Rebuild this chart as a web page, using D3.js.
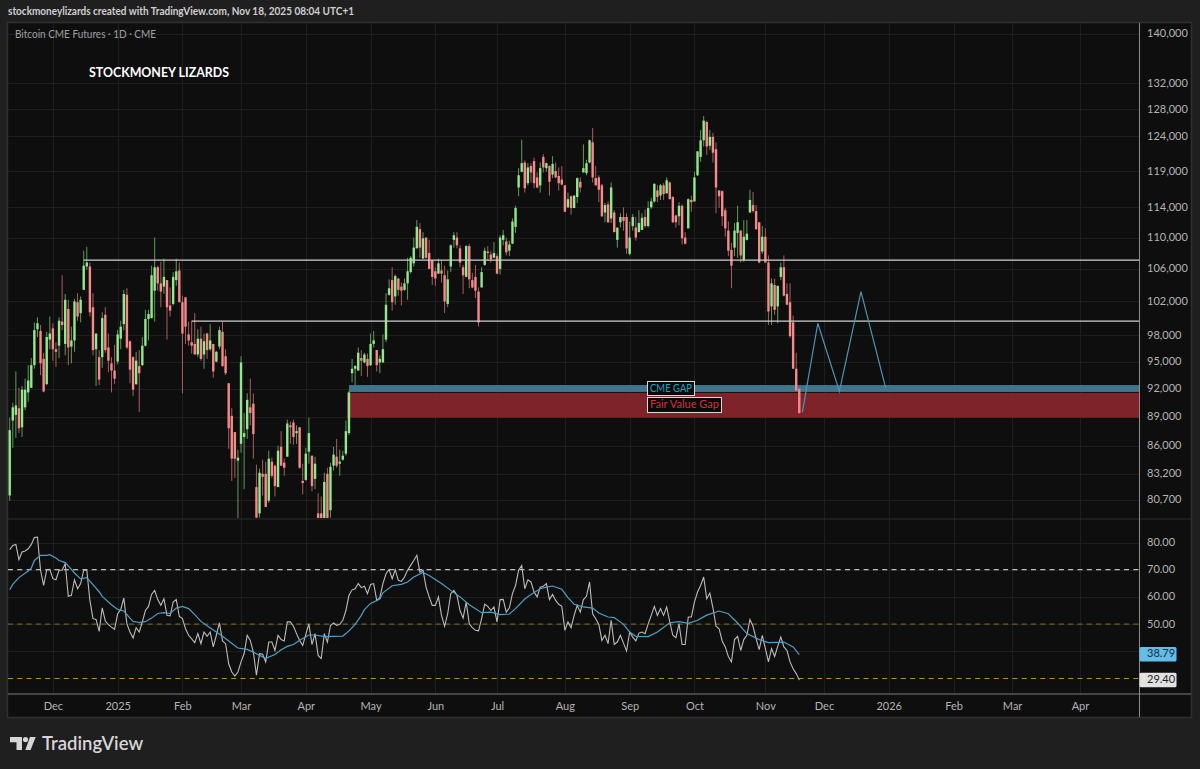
<!DOCTYPE html>
<html>
<head>
<meta charset="utf-8">
<title>Bitcoin CME Futures 1D</title>
<script src="https://cdn.jsdelivr.net/npm/d3@7"></script>
<style>
  html, body { margin: 0; padding: 0; background: #1f1f1f; overflow: hidden; }
  svg { display: block; }
  text { font-family: Lato, "Noto Sans", sans-serif; }
</style>
</head>
<body>
<div id="chart"></div>
<script>
// Daily BTC1! candles, in thousands of USD, one entry per trading session.
const opens = [
81.1,88.6,89.2,89.9,87.9,90.0,91.6,92.1,94.6,98.7,
98.5,95.3,92.5,97.5,98.8,96.4,96.8,99.6,97.0,101.1,
96.7,97.4,101.9,100.6,103.4,106.3,106.3,101.3,96.4,95.5,
95.5,100.4,96.6,94.8,94.0,95.0,97.6,99.3,102.8,97.3,
95.5,92.5,94.5,94.6,96.8,99.9,100.0,103.3,106.2,104.2,
103.8,104.6,101.5,101.7,104.6,105.8,101.9,102.5,98.1,97.2,
97.0,95.8,97.6,95.8,98.2,96.4,97.0,95.0,96.7,98.4,
95.6,92.6,89.1,87.4,84.5,86.2,86.9,87.7,90.0,90.4,
81.9,79.4,83.2,83.2,80.6,84.4,84.0,81.9,85.9,84.3,
84.9,88.1,88.4,87.3,87.9,82.5,82.6,85.4,85.0,82.7,
79.4,79.4,78.2,83.2,79.7,84.0,84.9,84.2,84.6,85.2,
87.3,93.7,94.2,94.0,95.4,94.9,95.3,94.6,97.0,96.3,
94.9,94.9,97.5,102.8,104.6,102.6,104.8,103.8,103.4,104.2,
105.6,106.7,108.6,111.1,107.3,110.0,108.0,107.1,105.7,105.4,
105.8,105.2,101.7,106.3,109.7,110.0,108.6,106.2,105.0,108.9,
104.6,105.0,103.2,103.7,106.5,108.2,107.8,107.4,107.6,106.0,
109.7,109.5,108.3,109.2,111.4,116.7,118.9,120.2,117.3,119.7,
120.4,118.1,117.0,121.0,119.4,119.7,118.5,119.0,118.3,117.8,
117.0,114.0,115.5,113.9,115.4,117.5,118.8,118.7,120.2,123.1,
118.0,118.1,117.0,113.3,114.4,112.5,113.3,109.7,112.0,112.7,
112.7,107.9,111.5,111.3,110.7,111.0,112.7,111.5,114.0,114.8,
116.3,115.6,117.0,115.9,117.4,115.4,112.9,112.8,114.2,110.0,
111.2,115.0,114.8,118.4,121.0,123.4,126.1,122.6,123.9,122.1,
116.3,116.2,113.6,110.9,108.4,108.7,110.6,110.9,107.1,109.7,
113.3,114.3,113.5,112.0,108.2,110.1,106.8,101.4,104.0,101.4,
105.0,106.2,102.9,101.9,99.5,94.2,92.0];

const highs = [
88.9,90.5,93.9,92.1,92.3,93.1,94.6,95.4,99.5,100.1,
99.2,96.0,98.4,100.2,99.4,97.2,100.1,105.2,102.9,102.2,
99.0,102.3,103.0,102.6,108.3,108.8,106.8,103.0,98.2,96.3,
100.7,101.3,98.2,95.5,96.9,98.6,99.7,103.4,103.6,97.4,
95.6,96.1,96.3,97.8,101.0,101.0,106.4,110.0,106.4,106.9,
107.3,104.6,103.7,105.6,107.3,106.8,102.7,102.5,99.6,99.7,
100.6,98.7,99.0,98.2,98.3,99.3,97.0,96.2,99.0,99.6,
96.4,92.6,89.9,87.4,85.6,95.6,89.4,91.5,93.1,91.5,
84.1,83.7,84.6,84.4,85.5,84.8,84.1,86.0,87.5,84.7,
88.7,88.5,88.7,88.1,87.9,84.2,85.8,88.9,85.0,84.9,
81.3,81.0,83.3,83.8,84.3,85.9,86.7,85.6,85.5,88.6,
91.8,95.3,94.6,96.6,96.3,96.0,95.9,98.2,98.5,96.3,
95.7,98.1,103.0,104.7,106.2,105.3,104.8,104.3,104.8,107.4,
107.6,110.0,112.3,111.9,110.7,110.0,109.7,107.1,106.2,107.3,
107.1,106.4,105.8,109.1,110.7,110.7,109.0,106.5,109.0,109.2,
105.5,106.5,103.7,106.2,108.7,108.9,108.3,109.4,107.9,110.3,
111.0,110.0,109.6,112.5,114.2,119.4,123.5,120.5,120.1,120.1,
120.9,118.8,120.2,121.4,120.2,119.8,121.1,120.2,119.5,119.7,
117.0,116.0,115.6,115.6,118.1,118.1,122.8,120.6,123.5,125.2,
119.7,118.4,117.2,114.6,114.8,117.4,113.6,111.3,113.2,114.0,
113.2,112.1,113.1,112.7,113.6,113.2,113.7,114.8,115.3,117.3,
117.0,117.2,117.3,118.1,117.5,115.5,113.0,114.7,114.4,110.7,
115.2,115.6,118.9,121.8,124.9,127.0,126.3,124.9,124.5,123.1,
116.3,116.3,113.9,112.1,109.3,111.9,114.2,111.0,112.3,112.3,
116.4,116.1,114.3,112.0,111.5,111.2,107.7,104.8,104.8,103.9,
106.8,107.7,104.2,104.2,100.3,96.0,92.1];

const lows = [
80.6,85.8,86.8,87.3,86.9,89.7,90.6,92.1,94.2,97.8,
93.5,91.6,92.4,96.4,95.1,94.4,95.4,98.6,95.7,94.6,
94.8,96.1,99.7,99.5,103.4,105.9,100.2,95.7,92.3,92.4,
94.3,96.0,93.8,91.6,92.5,94.7,96.4,98.6,96.4,92.6,
91.2,92.4,89.5,94.5,96.7,97.4,100.0,99.6,103.3,101.3,
102.9,97.5,100.2,101.5,103.9,101.9,91.5,97.0,96.8,95.9,
95.8,95.5,95.1,94.2,95.3,96.2,93.2,94.9,96.4,94.4,
93.5,85.7,82.5,82.8,78.8,85.3,81.7,86.7,88.1,84.7,
78.5,79.0,81.1,80.0,80.4,82.8,81.0,81.9,84.0,83.0,
84.9,86.2,86.1,86.2,83.7,81.2,82.5,84.2,81.5,81.7,
77.5,77.0,78.0,78.0,79.0,83.5,83.8,83.0,84.5,85.0,
87.1,92.7,92.4,94.0,93.4,94.8,93.3,94.5,96.6,93.9,
93.7,94.9,97.2,102.7,100.9,101.6,102.7,101.5,103.3,102.2,
105.4,106.3,108.6,107.4,107.3,107.3,106.0,104.0,103.9,105.4,
104.3,100.6,101.3,105.6,108.7,108.6,106.2,102.9,105.0,103.6,
103.6,102.4,99.0,103.7,106.4,107.1,106.8,107.4,105.4,105.3,
109.0,107.7,107.6,109.2,110.6,115.5,118.8,116.0,117.0,117.4,
116.6,116.6,116.0,118.8,118.9,115.6,118.0,118.0,116.3,117.0,
113.4,113.9,113.0,113.9,114.6,116.0,118.8,118.4,120.1,117.4,
117.0,114.7,112.7,112.0,111.9,111.9,110.7,108.7,111.3,110.9,
107.9,107.7,110.9,109.6,110.7,111.0,111.3,111.3,113.8,114.6,
114.7,115.0,115.0,115.9,115.1,111.9,111.3,111.6,109.1,109.1,
111.2,113.4,114.8,118.3,120.3,122.5,121.3,122.0,120.2,113.2,
113.9,111.5,110.1,107.6,103.6,107.6,107.4,106.8,106.9,109.6,
113.3,113.3,111.0,106.7,107.9,106.8,99.2,99.2,100.4,99.4,
104.6,102.6,101.6,97.7,94.2,91.7,89.3];

const closes = [
87.6,90.0,90.2,87.8,91.9,91.9,92.9,94.6,98.6,99.4,
94.8,91.7,97.8,98.2,96.4,96.1,99.7,99.2,102.2,96.6,
97.4,102.0,100.2,102.2,106.4,106.8,100.7,96.3,98.2,93.0,
100.0,96.3,95.1,94.0,93.1,98.1,99.0,102.9,96.6,94.1,
91.9,95.1,93.7,96.8,99.9,100.5,105.2,106.2,104.2,103.2,
105.0,101.3,100.9,105.0,105.7,101.9,98.2,99.0,97.4,96.8,
95.8,97.6,95.3,97.3,96.3,97.4,93.9,96.1,98.6,94.5,
93.7,87.8,84.7,84.7,84.8,94.9,87.3,90.8,89.4,87.2,
79.0,83.3,82.9,80.0,84.7,83.0,82.0,85.5,84.0,83.8,
88.3,87.9,86.9,87.5,83.8,82.3,85.2,87.3,82.0,84.2,
78.0,78.2,82.4,78.5,83.9,85.1,84.0,84.4,85.0,87.5,
91.6,94.2,94.5,96.0,95.1,95.8,94.5,97.0,97.4,94.6,
95.3,96.4,101.6,103.6,101.9,105.1,103.4,103.3,104.2,105.7,
107.4,108.7,111.4,108.7,109.9,107.4,106.0,105.0,104.8,106.7,
105.4,102.0,104.7,109.0,110.3,109.0,106.8,105.2,108.9,104.7,
103.7,103.3,99.5,105.6,108.3,108.0,107.2,108.0,105.4,110.0,
110.3,108.1,109.1,112.1,113.9,118.4,120.1,116.6,119.5,118.8,
117.3,116.7,119.4,119.5,120.1,117.5,120.0,118.1,117.3,117.1,
113.4,115.1,113.9,115.6,118.0,116.7,119.4,120.1,123.4,118.1,
117.0,116.4,112.8,114.3,112.0,116.7,110.7,111.3,112.7,112.2,
108.6,110.0,112.7,110.0,111.9,112.6,111.5,113.9,114.8,117.2,
115.4,117.0,115.8,117.7,115.1,112.0,112.0,114.2,109.9,109.2,
115.1,114.7,118.1,121.8,123.4,126.3,122.5,123.9,121.6,116.7,
115.5,112.8,111.2,108.3,106.4,110.9,112.0,107.7,110.1,110.5,
115.0,113.5,111.1,106.8,110.1,106.8,100.8,104.2,101.0,103.9,
106.2,102.7,101.6,97.9,94.2,91.8,89.4];

// RSI per session.
const rsiValues = [
77.4,78.9,79.3,73.7,76.5,76.9,77.7,79.3,81.8,82.0,
69.8,64.2,70.0,70.1,66.7,66.3,69.8,69.8,72.2,60.2,
60.6,66.3,63.0,64.9,69.8,69.8,58.7,52.0,51.7,47.3,
56.0,51.1,49.8,48.9,48.1,53.8,55.3,59.6,50.1,47.1,
44.9,48.7,47.1,50.8,55.0,56.5,60.9,62.4,59.0,56.9,
59.3,53.2,53.0,58.1,59.0,52.8,52.0,48.3,45.9,44.6,
43.2,46.5,42.8,47.1,45.5,47.1,41.6,45.9,50.5,43.8,
42.8,35.4,32.4,30.9,32.4,36.1,39.1,45.9,44.0,39.7,
31.2,39.1,38.9,36.1,43.4,43.4,40.3,45.9,44.3,43.8,
50.8,50.8,49.2,46.5,44.0,42.2,46.2,50.1,42.5,46.5,
38.5,37.3,46.5,43.4,49.5,50.4,49.5,49.9,51.4,55.0,
60.6,62.6,63.0,64.9,63.4,63.9,61.2,64.6,64.9,58.7,
59.7,64.9,68.5,70.1,66.7,70.0,66.1,65.7,67.3,69.8,
71.6,73.4,75.3,69.1,69.8,63.6,60.0,56.9,56.9,60.0,
53.2,49.2,53.8,61.2,62.4,60.6,55.0,52.2,58.1,50.1,
48.7,47.7,47.5,52.0,57.3,56.5,55.0,56.3,50.8,59.0,
59.1,54.4,56.0,61.2,64.2,69.8,71.5,63.0,66.3,65.5,
61.8,60.0,63.6,63.9,64.9,59.0,60.9,58.7,57.3,56.5,
47.7,50.8,48.7,53.2,56.9,54.4,59.0,60.2,65.5,53.8,
52.0,49.9,44.0,45.9,42.8,51.4,42.5,43.4,45.9,43.0,
40.1,47.1,45.2,43.8,46.7,47.1,46.5,50.1,53.2,56.5,
53.2,55.7,53.2,56.3,50.8,45.9,45.0,50.1,42.5,42.5,
52.6,52.6,58.1,61.8,64.2,67.3,59.3,61.4,56.0,49.2,
48.3,43.8,41.6,38.1,36.1,44.3,45.5,40.3,44.3,45.9,
51.7,49.2,44.6,40.6,45.9,41.0,36.1,41.0,38.1,41.8,
45.2,41.6,40.3,36.1,33.6,31.8,29.4];

// Smoothing line on the RSI: session numbers and the level at each.
const rsiMaBars = [0,1,3,6,7,8,10,12,13,15,16,18,20,21,23,25,27,29,30,33,35,37,39,40,42,44,46,48,50,52,
54,56,58,60,62,64,67,69,71,74,77,80,81,83,86,88,90,92,94,97,99,102,105,108,110,112,114,115,117,120,
121,124,127,129,131,134,136,140,143,146,149,153,156,159,162,164,167,169,172,174,176,179,181,183,186,189,191,194,196,199,
201,203,207,210,214,217,220,223,226,230,233,236,239,243,246,251,254,256];
const rsiMaValues = [62.6,64.6,67.1,69.5,70.6,73.4,75.3,75.3,75.5,74.3,73.4,72.6,70.1,68.8,66.6,67.1,64.5,61.9,60.2,57.1,55.4,54.8,52.2,51.0,50.6,50.9,52.2,53.9,54.2,53.9,
55.9,56.5,55.7,53.5,51.0,49.4,47.1,45.5,43.8,41.2,40.7,39.1,38.5,37.4,38.8,40.6,41.8,42.5,44.1,46.0,46.0,45.4,45.5,45.6,47.5,49.9,53.2,55.3,57.6,59.2,
61.5,64.1,64.6,65.5,67.3,69.0,67.9,64.9,62.4,60.0,57.1,54.2,54.4,53.5,53.7,55.7,59.2,60.9,63.0,63.6,64.0,62.8,59.7,57.3,56.3,55.9,54.1,52.6,52.4,49.9,
47.1,45.5,45.4,47.1,50.5,50.9,50.3,51.4,53.3,54.8,53.8,50.4,46.5,44.3,43.2,43.4,41.6,38.79];

// Horizontal resistance levels, the first session each starts from, in USD.
const levelPrices = [107100, 99650];
const levelStartBars = [24, 59];

// Gap zones in USD: [low, high] and first session.
const cmeGapRange = [91650, 92400];
const cmeGapStartBar = 110;
const fairValueGapRange = [88900, 91550];
const fairValueGapStartBar = 109;

// Projected path after the last session.
const projectionBars = [257, 262, 269, 276, 284];
const projectionPrices = [89500, 99400, 91700, 103200, 92100];

// Axes.
const priceTicks = [140000, 132000, 128000, 124000, 119000, 114000, 110000, 106000, 102000, 98000, 95000, 92000, 89000, 86000, 83200, 80700];
const rsiTicks = [80, 70, 60, 50];
const rsiGridLevels = [80, 70, 60, 50, 40];
const timeLabels = ["Dec", "2025", "Feb", "Mar", "Apr", "May", "Jun", "Jul", "Aug", "Sep", "Oct", "Nov", "Dec", "2026", "Feb", "Mar", "Apr"];
const timeBars = [14, 35, 56, 75, 96, 117, 138, 158, 180, 201, 222, 245, 264, 285, 306, 325, 347];
const rsiLastValue = rsiMaValues[rsiMaValues.length - 1];
const rsiCurrentValue = rsiValues[rsiValues.length - 1];

const W = 1200, H = 769;
const plotLeft = 8, plotRight = 1139, frameRight = 1191;
const priceTop = 23, priceBottom = 518;
const rsiBottom = 694, frameBottom = 717;

const UP = "#93e78c", DOWN = "#f68a8a", UP_WICK = "#5f9c5a", DOWN_WICK = "#a85f60";

const svg = d3.select("#chart").append("svg").attr("width", W).attr("height", H);
svg.append("rect").attr("width", W).attr("height", H).attr("fill", "#1f1f1f");

// Chart frame
svg.append("rect").attr("x", plotLeft - 0.5).attr("y", 22.5).attr("width", frameRight - plotLeft + 1).attr("height", frameBottom - 22)
  .attr("fill", "#0e0e0e").attr("stroke", "#303030").attr("stroke-width", 1.5);

const x = d3.scaleLinear().domain([0, 256]).range([9.7, 799.3]);
const y = d3.scaleLog().domain([140000, 80700]).range([33.5, 499.6]);
const yr = d3.scaleLinear().domain([70, 50]).range([569.7, 624.1]);

const defs = svg.append("defs");
defs.append("clipPath").attr("id", "price-pane").append("rect")
  .attr("x", plotLeft).attr("y", priceTop).attr("width", plotRight - plotLeft).attr("height", priceBottom - priceTop);

// Grid
const grid = svg.append("g").attr("stroke", "#1e1e1e").attr("stroke-width", 1);
const snap = v => Math.round(v) + 0.5;
timeBars.forEach(b => {
  grid.append("line").attr("x1", snap(x(b))).attr("x2", snap(x(b))).attr("y1", priceTop).attr("y2", rsiBottom);
});
priceTicks.forEach(p => {
  grid.append("line").attr("x1", plotLeft).attr("x2", plotRight).attr("y1", snap(y(p))).attr("y2", snap(y(p)));
});
rsiGridLevels.forEach(v => {
  grid.append("line").attr("x1", plotLeft).attr("x2", plotRight).attr("y1", snap(yr(v))).attr("y2", snap(yr(v)));
});

// Price pane
const pane = svg.append("g").attr("clip-path", "url(#price-pane)");

pane.append("rect").attr("x", x(cmeGapStartBar)).attr("y", y(cmeGapRange[1]))
  .attr("width", plotRight - x(cmeGapStartBar)).attr("height", y(cmeGapRange[0]) - y(cmeGapRange[1]))
  .attr("fill", "#427a94").attr("fill-opacity", 0.95);
pane.append("rect").attr("x", x(fairValueGapStartBar) + 1.2).attr("y", y(fairValueGapRange[1]))
  .attr("width", plotRight - x(fairValueGapStartBar) - 1.2).attr("height", y(fairValueGapRange[0]) - y(fairValueGapRange[1]))
  .attr("fill", "#82242b").attr("fill-opacity", 0.97);

const candles = d3.range(opens.length);
pane.append("g").selectAll("line").data(candles).join("line")
  .attr("x1", i => x(i)).attr("x2", i => x(i))
  .attr("y1", i => y(highs[i] * 1000)).attr("y2", i => y(lows[i] * 1000))
  .attr("stroke", i => closes[i] >= opens[i] ? UP_WICK : DOWN_WICK).attr("stroke-width", 1);
pane.append("g").selectAll("rect").data(candles).join("rect")
  .attr("x", i => x(i) - 1.2).attr("width", 2.4)
  .attr("y", i => y(Math.max(opens[i], closes[i]) * 1000))
  .attr("height", i => Math.max(1, Math.abs(y(opens[i] * 1000) - y(closes[i] * 1000))))
  .attr("fill", i => closes[i] >= opens[i] ? UP : DOWN);

// Key levels
levelPrices.forEach((p, k) => {
  pane.append("line").attr("x1", x(levelStartBars[k])).attr("x2", plotRight)
    .attr("y1", y(p)).attr("y2", y(p)).attr("stroke", "#cfcfcf").attr("stroke-width", 1.4);
});

// Projected path
pane.append("path")
  .attr("d", d3.line().x(d => x(d[0])).y(d => y(d[1]))(d3.zip(projectionBars, projectionPrices)))
  .attr("fill", "none").attr("stroke", "#4f93b4").attr("stroke-width", 1.2);

// Zone labels
function tagLabel(txt, bx, by, bw, bh, color, textX, len) {
  const g = svg.append("g");
  g.append("rect").attr("x", bx).attr("y", by).attr("width", bw).attr("height", bh)
    .attr("fill", "#0a0a0a").attr("stroke", "#d8d8d8").attr("stroke-width", 1);
  g.append("text").attr("x", textX).attr("y", by + bh / 2 + 0.5).attr("dominant-baseline", "middle")
    .attr("font-size", 11.5).attr("fill", color)
    .attr("textLength", len).attr("lengthAdjust", "spacingAndGlyphs").text(txt);
}
tagLabel("CME GAP", 647.5, 381.5, 47, 14, "#18a7c6", 650, 42);
tagLabel("Fair Value Gap", 647.5, 397.5, 74, 15, "#d5303e", 650, 69);

// Pane separators
svg.append("line").attr("x1", plotLeft).attr("x2", frameRight).attr("y1", 519).attr("y2", 519)
  .attr("stroke", "#2c2c2c").attr("stroke-width", 1);
svg.append("line").attr("x1", plotLeft).attr("x2", frameRight).attr("y1", rsiBottom).attr("y2", rsiBottom)
  .attr("stroke", "#5a5a5a").attr("stroke-width", 1.6);
svg.append("line").attr("x1", plotRight + 0.5).attr("x2", plotRight + 0.5).attr("y1", priceTop).attr("y2", frameBottom)
  .attr("stroke", "#8c8c8c").attr("stroke-width", 1);

// RSI reference bands
[[70, "#bdbdbd"], [50, "#6f5f24"], [30, "#b98f1e"]].forEach(([v, c]) => {
  svg.append("line").attr("x1", plotLeft).attr("x2", plotRight).attr("y1", yr(v)).attr("y2", yr(v))
    .attr("stroke", c).attr("stroke-width", 1.2).attr("stroke-dasharray", "5,4.3");
});

// RSI and its smoothing line
const rsiLine = d3.line().x((d, i) => x(i)).y(d => yr(d));
svg.append("path").attr("d", rsiLine(rsiValues)).attr("fill", "none").attr("stroke", "#bcbcbc").attr("stroke-width", 1.1);
svg.append("path")
  .attr("d", d3.line().x(d => x(d[0])).y(d => yr(d[1]))(d3.zip(rsiMaBars, rsiMaValues)))
  .attr("fill", "none").attr("stroke", "#4fa0c4").attr("stroke-width", 1.2);

// Right axes
const axisStyle = g => {
  g.select(".domain").remove();
  g.selectAll("line").remove();
  g.selectAll("text").attr("fill", "#b4b4b4").attr("font-size", 11).attr("font-family", 'Lato, sans-serif');
};
svg.append("g").attr("transform", "translate(1147,-0.5)")
  .call(d3.axisRight(y).tickValues(priceTicks).tickFormat(d3.format(",")).tickSize(0).tickPadding(0))
  .call(axisStyle);
svg.append("g").attr("transform", "translate(1147,-0.5)")
  .call(d3.axisRight(yr).tickValues(rsiTicks).tickFormat(d3.format(".2f")).tickSize(0).tickPadding(0))
  .call(axisStyle);

// Current-value tags
function valueTag(v, fill, ink) {
  const cy = yr(v);
  svg.append("rect").attr("x", 1139.5).attr("y", cy - 7.5).attr("width", 37).attr("height", 14.5).attr("rx", 1.5).attr("fill", fill);
  svg.append("text").attr("x", 1147).attr("y", cy).attr("dominant-baseline", "middle")
    .attr("font-size", 11).attr("fill", ink).text(d3.format(".2f")(v));
}
valueTag(rsiLastValue, "#63bde8", "#0f2f3d");
valueTag(rsiCurrentValue, "#e2e2e2", "#222222");

// Time axis
const timeAxis = d3.axisBottom(x).tickValues(timeBars).tickFormat((d, i) => timeLabels[i]).tickSize(0).tickPadding(0);
svg.append("g").attr("transform", "translate(0,702)").call(timeAxis).call(axisStyle);

// Header texts
svg.append("text").attr("x", 8).attr("y", 12.5).attr("dominant-baseline", "middle")
  .attr("font-size", 11.5).attr("font-weight", 700).attr("fill", "#cfcfcf")
  .attr("textLength", 346).attr("lengthAdjust", "spacingAndGlyphs")
  .text("stockmoneylizards created with TradingView.com, Nov 18, 2025 08:04 UTC+1");
svg.append("text").attr("x", 15).attr("y", 35).attr("dominant-baseline", "middle")
  .attr("font-size", 10.5).attr("fill", "#a0a0a0")
  .attr("textLength", 141).attr("lengthAdjust", "spacingAndGlyphs").text("Bitcoin CME Futures · 1D · CME");
svg.append("text").attr("x", 89).attr("y", 74).attr("dominant-baseline", "middle").attr("font-family", '"Open Sans", sans-serif')
  .attr("font-size", 12.4).attr("font-weight", 700).attr("fill", "#ffffff").text("STOCKMONEY LIZARDS");

// Wordmark and icon
const mark = svg.append("g").attr("fill", "#d6d6d6");
mark.append("path").attr("d", "M10 737H22V750H16.5V742.3H10Z");
mark.append("circle").attr("cx", 25.5).attr("cy", 739.6).attr("r", 2.6);
mark.append("path").attr("d", "M30 737H35.7L30.6 750H25.3Z");
svg.append("text").attr("x", 42).attr("y", 749.5).attr("font-family", "Inter, sans-serif")
  .attr("font-size", 18.5).attr("font-weight", 600).attr("fill", "#d6d6d6").text("TradingView");
</script>
</body>
</html>
